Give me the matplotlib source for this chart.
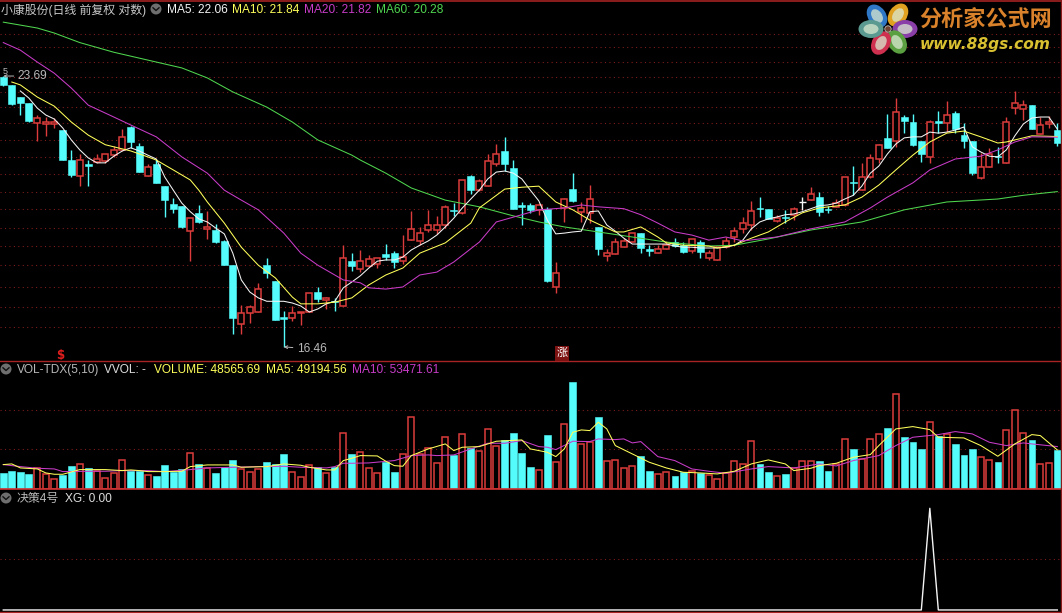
import matplotlib
matplotlib.use("Agg")
import matplotlib.pyplot as plt
from matplotlib.patches import Ellipse, Circle, Rectangle

opens = [23.66,23.41,23.03,22.85,22.24,22.21,22.21,22.03,21.16,20.71,
         21.05,21.10,21.13,21.30,21.45,22.12,21.57,20.71,21.05,20.43,
         19.95,19.90,19.23,19.71,19.29,19.26,18.98,18.37,16.98,17.23,
         17.25,18.37,17.99,17.14,17.12,17.23,17.25,17.72,17.53,17.50,
         17.39,18.47,18.27,18.35,18.40,18.65,18.67,18.47,19.00,18.98,
         19.26,19.26,19.39,19.79,19.71,20.71,20.32,20.43,21.05,21.42,
         20.93,19.92,19.92,19.79,19.82,17.84,19.84,20.35,19.74,19.71,
         19.34,18.60,18.65,18.82,18.95,19.18,18.77,18.67,18.77,18.95,
         18.87,18.72,18.95,18.55,18.50,18.82,19.08,19.29,19.39,19.84,
         19.82,19.49,19.60,19.66,20.01,20.05,20.13,19.82,19.87,19.92,
         20.55,20.32,20.68,21.19,21.80,21.71,22.42,22.27,21.71,21.25,
         22.30,22.24,22.54,21.88,21.71,20.66,20.96,21.27,21.08,22.69,
         22.66,22.78,21.91,22.21,22.03]
closes = [23.41,22.82,22.85,22.30,22.39,22.27,22.27,21.16,20.74,21.16,
          21.00,21.19,21.33,21.45,21.83,21.68,20.82,20.96,20.52,20.05,
          19.82,19.34,19.57,19.47,19.34,18.95,18.37,17.12,17.23,17.37,
          17.79,18.18,17.07,17.09,17.23,17.25,17.70,17.55,17.58,17.48,
          18.55,18.35,18.47,18.52,18.55,18.57,18.45,18.57,19.29,19.18,
          19.39,19.39,19.87,19.76,20.60,20.32,20.57,21.13,21.33,21.05,
          19.82,19.87,19.79,19.92,17.99,18.18,20.08,20.03,19.84,20.08,
          18.77,18.67,18.95,18.98,19.18,18.80,18.72,18.77,18.87,18.85,
          18.70,19.03,18.70,18.67,18.82,18.98,19.23,19.44,19.76,19.81,
          19.55,19.57,19.57,19.82,20.01,20.21,19.74,19.79,19.97,20.68,
          20.52,20.68,21.22,21.60,21.51,22.57,22.30,21.60,21.33,22.27,
          22.24,22.48,22.06,21.71,20.79,20.96,21.33,21.25,22.27,22.85,
          22.78,22.06,22.18,22.27,21.65]
highs = [23.69,23.41,23.03,22.85,22.48,22.42,22.39,22.03,21.45,21.33,
         21.16,21.33,21.33,21.57,22.06,22.15,21.65,21.05,21.19,20.43,
         20.10,19.90,19.57,19.92,19.76,19.42,19.00,18.37,17.41,17.41,
         17.94,18.55,17.99,17.28,17.39,17.25,17.70,17.84,17.60,17.58,
         18.87,18.67,18.75,18.62,18.55,18.90,18.72,19.13,19.76,19.34,
         19.79,19.63,19.92,19.97,20.60,20.74,20.63,21.33,21.62,21.83,
         21.16,20.00,19.97,19.97,19.87,18.45,20.10,20.79,20.00,20.46,
         19.34,18.77,19.05,19.05,19.18,19.18,18.87,18.87,18.98,19.05,
         18.95,19.03,19.00,18.75,18.82,19.08,19.34,19.60,20.03,20.13,
         19.82,19.65,19.79,19.87,20.13,20.40,20.27,19.90,20.08,20.68,
         20.99,21.08,21.33,21.62,22.51,23.00,22.48,22.51,21.71,22.33,
         22.60,22.91,22.60,22.24,21.71,21.36,21.51,21.54,22.42,23.22,
         22.94,22.78,22.42,22.45,22.24]
lows = [23.38,22.78,22.48,22.27,21.71,21.86,22.09,21.16,20.68,20.43,
        20.43,21.08,21.08,21.25,21.42,21.51,20.82,20.71,20.52,19.60,
        19.71,19.31,18.47,19.44,19.03,18.93,18.37,16.75,16.75,17.00,
        17.25,18.06,17.07,16.46,17.05,16.95,17.25,17.48,17.32,17.28,
        17.39,18.23,18.20,18.32,18.30,18.50,18.30,18.40,19.00,18.87,
        19.21,19.16,19.31,19.63,19.68,20.21,20.29,20.43,21.00,20.85,
        19.82,19.39,19.71,19.66,17.96,17.70,19.47,20.00,19.47,19.44,
        18.62,18.47,18.65,18.82,18.95,18.67,18.60,18.67,18.77,18.82,
        18.67,18.67,18.55,18.50,18.50,18.80,18.95,19.18,19.26,19.60,
        19.55,19.47,19.44,19.52,19.79,20.05,19.63,19.71,19.87,19.90,
        20.18,20.32,20.66,21.08,21.51,21.54,21.94,21.57,21.10,21.08,
        21.94,21.97,21.94,21.51,20.74,20.63,20.96,21.08,21.08,22.51,
        22.33,22.06,21.91,22.09,21.57]

ma5_start = 2
ma5 = [23.22,23.00,22.69,22.48,22.36,22.09,21.74,21.45,21.22,21.08,
       21.08,21.27,21.42,21.51,21.42,21.30,21.19,20.68,20.32,19.97,
       19.74,19.55,19.47,19.31,19.16,18.67,18.01,17.72,17.58,17.50,
       17.50,17.50,17.46,17.39,17.25,17.32,17.44,17.50,17.82,17.96,
       18.11,18.30,18.47,18.50,18.50,18.57,18.75,18.87,18.98,19.13,
       19.34,19.57,19.84,20.08,20.32,20.63,20.82,20.85,20.79,20.63,
       20.32,20.03,19.52,19.16,19.18,19.21,19.23,19.74,19.76,19.39,
       19.23,19.05,18.90,18.90,18.90,18.90,18.90,18.85,18.82,18.82,
       18.80,18.80,18.80,18.82,18.87,19.00,19.29,19.47,19.55,19.60,
       19.66,19.68,19.74,19.82,19.90,19.92,19.97,20.08,20.18,20.43,
       20.79,20.99,21.33,21.62,21.80,21.83,21.83,21.97,21.94,21.97,
       22.03,22.12,21.54,21.39,21.27,21.25,21.45,21.86,22.21,22.39,
       22.42,22.42,22.06]

ma10_idx = [1,2,4,6,8,10,12,15,17,18,20,22,23,24,26,28,30,32,34,35,37,39,41,43,45,47,49,52,55,56,
            59,61,63,65,67,69,72,73,75,77,78,80,83,84,86,88,90,92,94,96,99,101,103,105,107,109,111,113,115,117,118,121,124]
ma10 = [23.50,23.41,23.03,22.75,22.27,21.88,21.60,21.42,21.25,21.16,20.88,20.60,20.32,20.00,19.44,18.82,18.37,18.06,17.60,17.44,
        17.44,17.48,17.58,17.89,18.13,18.30,18.67,18.93,19.44,19.84,
        20.35,20.40,20.43,20.00,19.79,19.52,19.21,19.21,19.34,19.08,18.93,18.87,18.85,18.80,18.87,19.05,19.21,19.47,19.71,19.84,
        19.92,20.13,20.46,20.88,21.30,21.68,21.94,22.00,21.83,21.65,21.68,21.86,21.84]

ma20_idx = [0,2,4,6,8,10,13,15,18,21,24,26,28,30,33,35,37,40,42,43,45,47,49,51,53,56,58,61,63,66,
            68,70,73,75,77,79,81,83,85,87,91,95,99,102,104,107,109,112,115,117,119,121,124]
ma20 = [24.78,24.53,24.14,23.78,23.31,22.78,22.42,22.18,21.83,21.25,20.79,20.32,20.05,19.79,19.18,18.67,18.37,18.01,17.94,17.82,
        17.79,17.84,18.13,18.20,18.45,18.95,19.47,19.66,19.79,19.84,
        19.92,19.87,19.82,19.66,19.44,19.21,19.13,19.00,19.08,18.98,19.08,19.29,19.47,19.84,20.13,20.52,20.88,21.19,21.27,21.45,
        21.68,21.83,21.82]

ma60_idx = [0,4,6,9,13,18,21,24,27,31,34,37,41,42,45,48,52,56,60,63,66,70,74,78,83,86,90,95,101,106,111,117,120,124]
ma60 = [25.47,25.27,25.10,24.78,24.46,24.14,23.95,23.63,23.19,22.72,22.27,21.74,21.30,21.16,20.79,20.38,20.05,19.87,19.63,19.47,
        19.34,19.21,19.08,18.95,18.85,18.87,19.03,19.26,19.47,19.79,20.00,20.08,20.18,20.28]

volume = [20350,22900,20780,19080,25860,19080,12300,17800,29260,31380,
          26710,22050,13570,20350,36460,22050,22900,17380,16540,30530,
          20780,25020,45370,31380,25860,20350,27980,36890,25020,21200,
          25020,34340,31800,44520,21200,14840,29680,27140,19930,27140,
          70810,44100,46640,26290,19930,33500,21620,44100,91160,44100,
          51730,32650,65720,43250,69540,51730,47910,75900,54700,61900,
          71230,45790,27980,23740,68690,33920,82260,136100,56820,59360,
          91160,35190,36460,26290,28830,41980,22900,18660,21200,16540,
          21620,22470,19500,17810,12300,19930,35190,31380,60630,31380,
          21620,16110,19080,26290,35190,35190,35620,22900,31380,63180,
          50460,37740,63180,69540,77590,120400,66140,59780,50460,84800,
          67420,69540,56820,43250,50460,40280,36460,34340,74620,100060,
          70810,61900,31380,32650,48565.69]

vol_ma5_idx = [0,1,2,4,5,6,7,9,10,12,14,15,16,17,19,21,22,24,27,28,31,33,35,36,38,39,40,
               41,42,44,45,46,47,48,50,52,53,54,56,58,61,62,64,65,66,67,68,69,70,71,72,74,76,78,80,
               82,84,86,88,90,92,93,95,96,98,100,102,103,104,105,107,109,110,113,115,117,119,121,122,124]
vol_ma5 = [30530,31380,26290,25020,19930,18230,18230,24170,24170,24170,22900,23740,22900,21620,21620,22050,27980,30100,30100,27140,27980,31380,29680,27140,23740,23740,35620,
           38580,41980,41550,34770,29260,28410,41980,50460,56820,48340,52580,53420,60210,61900,50460,46220,40700,50460,71660,74620,73780,84380,75900,54700,44100,33500,26290,20780,
           19930,18660,22050,31380,36460,31380,22900,25860,29260,32220,39860,43250,54700,65300,75900,78860,75050,65300,64450,54700,41130,56820,68690,67420,49194.56]

vol_ma10_idx = [0,2,4,6,7,10,12,14,17,19,22,24,27,30,33,35,38,39,40,41,43,46,48,50,51,53,55,57,59,61,63,64,65,67,69,70,72,73,74,75,77,79,81,83,
                84,85,88,90,93,96,98,100,103,105,107,110,112,114,116,118,120,121,124]
vol_ma10 = [30530,27980,25860,25020,21620,22050,22050,22900,22900,21620,24170,26290,27140,27980,28410,27140,26290,27980,32220,32220,32650,35620,41980,42820,41980,42820,50460,57660,57660,61060,53420,52580,49610,60210,59780,63180,62330,63180,58090,59780,40700,35620,25020,22050,
            20780,19500,25020,27980,26290,31380,28830,35620,41980,54700,65300,68690,72500,69540,58940,54700,58090,56820,53471.61]

xg_idx = [0,108,109,110,124]
xg = [0.00,0.00,1.00,0.00,0.00]

price_grid = [25.07,24.62,24.14,23.66,23.19,22.72,22.24,21.74,21.25,20.76,20.27,19.82,19.31,18.85,18.37,17.84,17.37,16.91]
vol_grid = [50000,100000]
xg_grid = [0.5]

RED = "#dc3c3c"
CYAN = "#54fcfc"
GRID = "#7d1c1c"
WHITE = "#f4f4f4"
YELLOW = "#ffff5a"
MAGENTA = "#c83cc8"
GREEN = "#4fd64f"
GREY = "#b8b8b8"
FONT = ["Liberation Sans", "Noto Sans CJK SC"]
W, H = 1062, 613
XMIN, XMAX = -0.388, 124.55

fig = plt.figure(figsize=(W / 100, H / 100), dpi=100, facecolor="black")


def make_axes(top, bottom):
    ax = fig.add_axes([0, 1 - bottom / H, 1, (bottom - top) / H], facecolor="black")
    ax.set_xlim(XMIN, XMAX)
    ax.set_xticks([])
    ax.set_yticks([])
    ax.minorticks_off()
    for s in ax.spines.values():
        s.set_visible(False)
    return ax


# price panel ---------------------------------------------------------------
ax = make_axes(0, 361)
ax.set_yscale("log")
ax.set_ylim(16.15, 26.24)
ax.minorticks_off()
ax.set_yticks([])
ax.hlines(price_grid, XMIN, XMAX, color=GRID, lw=0.8, linestyles=(0, (1, 3)), zorder=1)
for i, (o, h, l, c) in enumerate(zip(opens, highs, lows, closes)):
    col = WHITE if o == c else (RED if c > o else CYAN)
    ax.vlines(i, l, h, color=col, lw=1.0, zorder=2)
    up = c >= o
    bottom, top = min(o, c), max(o, c)
    if o == c:
        ax.hlines(c, i - 0.38, i + 0.38, color=col, lw=1.0, zorder=3)
    elif up:
        ax.bar(i, top - bottom, bottom=bottom, width=0.74, facecolor="black",
               edgecolor=RED, linewidth=1.1, zorder=3)
    else:
        ax.bar(i, top - bottom, bottom=bottom, width=0.78, facecolor=CYAN,
               edgecolor=CYAN, linewidth=0.4, zorder=3)
ax.plot(range(ma5_start, ma5_start + len(ma5)), ma5, color=WHITE, lw=0.75, zorder=5)
ax.plot(ma10_idx, ma10, color=YELLOW, lw=0.75, zorder=5)
ax.plot(ma20_idx, ma20, color=MAGENTA, lw=0.75, zorder=5)
ax.plot(ma60_idx, ma60, color=GREEN, lw=0.75, zorder=4)
arrow = dict(arrowstyle="->", color=GREY, lw=0.7, mutation_scale=5, shrinkA=1, shrinkB=0)
ax.annotate("23.69", xy=(0, 23.69), xytext=(10.5, 0), textcoords="offset points",
            color=GREY, fontsize=8.6, family=FONT, va="center", ha="left",
            arrowprops=arrow, zorder=6)
ax.annotate("16.46", xy=(33, 16.46), xytext=(9.5, -1.6), textcoords="offset points",
            color=GREY, fontsize=8.6, family=FONT, va="center", ha="left",
            arrowprops=arrow, zorder=6)

# volume panel --------------------------------------------------------------
av = make_axes(362, 488.6)
av.set_ylim(0, 161000)
av.hlines(vol_grid, XMIN, XMAX, color=GRID, lw=0.8, linestyles=(0, (1, 3)), zorder=1)
for i, (o, c, v) in enumerate(zip(opens, closes, volume)):
    if c >= o:
        av.bar(i, v, width=0.74, facecolor="black", edgecolor=RED, linewidth=1.1, zorder=2)
    else:
        av.bar(i, v, width=0.78, facecolor=CYAN, edgecolor=CYAN, linewidth=0.4, zorder=2)
av.plot(vol_ma5_idx, vol_ma5, color=YELLOW, lw=0.75, zorder=4)
av.plot(vol_ma10_idx, vol_ma10, color=MAGENTA, lw=0.75, zorder=3)

# XG panel ------------------------------------------------------------------
ax3 = make_axes(489, 612)
ax3.set_ylim(-0.02, 1.19)
ax3.hlines(xg_grid, XMIN, XMAX, color=GRID, lw=0.8, linestyles=(0, (1, 3)), zorder=1)
ax3.plot(xg_idx, xg, color=WHITE, lw=1.0, zorder=3)

# overlay in pixels: frame, headers, logo -----------------------------------
ov = fig.add_axes([0, 0, 1, 1], facecolor="none")
ov.set_xlim(0, W)
ov.set_ylim(H, 0)
ov.axis("off")
for y, col, lw in [(0.5, "#8c1c1c", 1.4), (361, "#a82424", 1.0), (488.5, "#d23232", 1.2), (611.5, "#a82424", 1.0)]:
    ov.plot([0, W], [y, y], color=col, lw=lw, zorder=2)
ov.plot([1061.3, 1061.3], [0, H], color="#8c1c1c", lw=1.0, zorder=2)


def label(x, y, s, col, size=8.6, **kw):
    ov.text(x, y, s, color=col, fontsize=size, family=FONT, va="center", ha="left", zorder=6, **kw)


def button(x, y):
    ov.add_patch(Circle((x, y), 5.5, facecolor="#6e6e6e", edgecolor="none", zorder=5))
    ov.plot([x - 3, x, x + 3], [y - 1.2, y + 1.5, y - 1.2], color="#111111", lw=1.0, zorder=6)


label(1, 10, "小康股份(日线 前复权 对数)", "#c8c8c8")
button(156, 9)
label(167, 10, "MA5: 22.06", WHITE)
label(232, 10, "MA10: 21.84", YELLOW)
label(304, 10, "MA20: 21.82", MAGENTA)
label(376, 10, "MA60: 20.28", GREEN)

button(6, 369)
label(17, 370, "VOL-TDX(5,10)", GREY)
label(104, 370, "VVOL: -", "#dddddd")
label(154, 370, "VOLUME: 48565.69", YELLOW)
label(266, 370, "MA5: 49194.56", YELLOW)
label(352, 370, "MA10: 53471.61", MAGENTA)

button(6, 498)
label(17, 499, "决策4号", GREY)
label(65, 499, "XG: 0.00", "#dddddd")

label(2.5, 71.5, "5", GREY, size=6.5)

ov.text(60.5, 356, "$", color="#e01e1e", fontsize=8.5, family="DejaVu Sans", fontweight="bold",
        ha="center", va="center", zorder=6)
ov.add_patch(Rectangle((555, 346), 13.5, 14.5, facecolor="#7d1212", edgecolor="none", zorder=5))
ov.text(561.8, 353, "涨", color="white", fontsize=8, family="Noto Sans CJK SC", ha="center", va="center", zorder=6)

# logo flower and name
petals = [(877, 16, 125, "#2f78c8"), (898, 15, 55, "#e0a020"), (905, 29, 0, "#8a3fa8"),
          (897, 42, -60, "#5aa040"), (881, 43, 60, "#d03050"), (871, 29, 0, "#5a9a90")]
for px, py, ang, col in petals:
    ov.add_patch(Ellipse((px, py), 25, 18, angle=-ang if ang else 0, facecolor=col, edgecolor="none", zorder=4))
    ov.add_patch(Ellipse((px, py), 15, 10, angle=-ang if ang else 0, facecolor="#d8e8d0", edgecolor="none",
                         alpha=0.75, zorder=4))
ov.add_patch(Circle((888, 29), 3.2, facecolor="#704030", edgecolor="#c0c0c0", lw=0.6, zorder=5))
ov.text(919.5, 20, "分析家公式网", color="#d9822b", fontsize=15.9, family="Noto Sans CJK SC",
        fontweight="bold", ha="left", va="center", zorder=6)
ov.text(919.5, 44.5, "www.88gs.com", color="#d8c030", fontsize=11.1, family="DejaVu Sans",
        fontweight="bold", fontstyle="italic", ha="left", va="center", zorder=6)

fig.savefig("out.png", dpi=100, facecolor="black")
